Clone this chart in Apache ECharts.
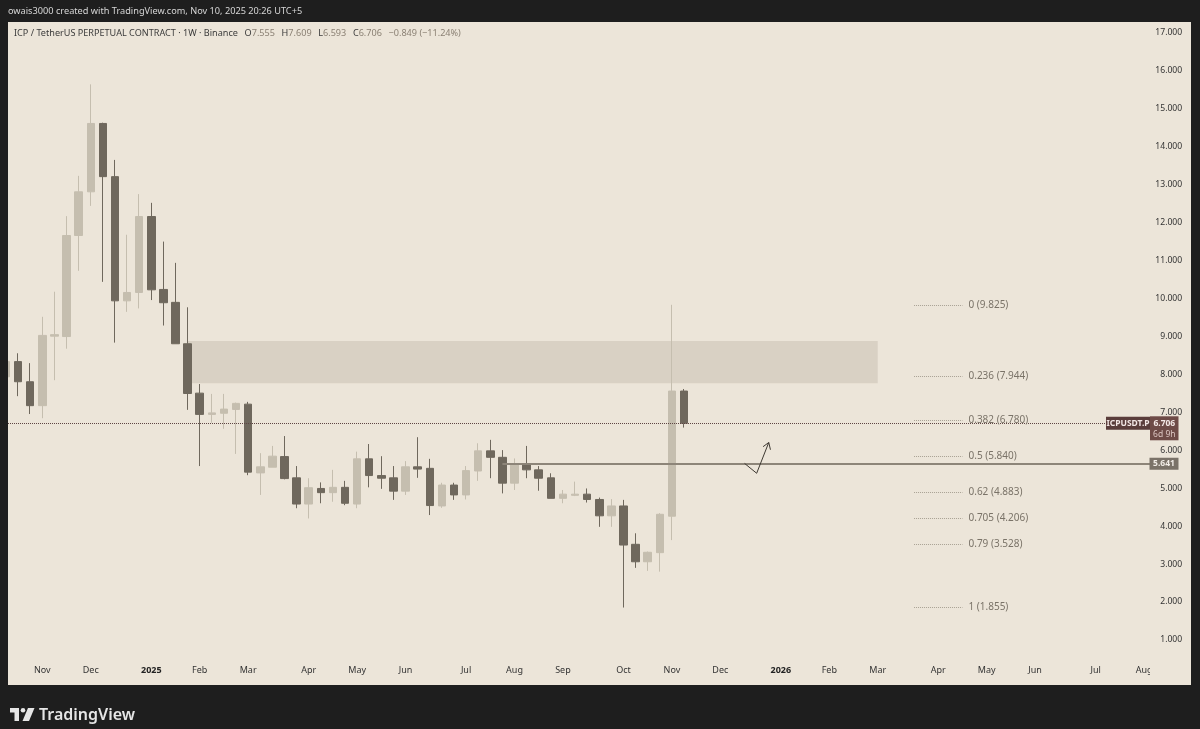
<!DOCTYPE html>
<html>
<head>
<meta charset="utf-8">
<title>ICPUSDT.P 1W</title>
<script src="https://cdn.jsdelivr.net/npm/echarts@6/dist/echarts.min.js"></script>
<style>
  html, body { margin: 0; padding: 0; background: #1e1e1e; }
  #chart { width: 1200px; height: 729px; }
</style>
</head>
<body>
<div id="chart"></div>
<script>
// weekly candles, x = week number counted from the week of 2024-10-14
var opens  = [7.93, 8.33, 7.80, 7.17, 9.00, 8.99, 11.65, 12.80, 14.60, 13.20, 9.93, 10.15, 12.15, 10.23, 9.89, 8.80,
              7.50, 6.94, 6.97, 7.07, 7.21, 5.40, 5.55, 5.83, 5.27, 4.58, 4.99, 4.88, 5.02, 4.58, 5.77, 5.33,
              5.27, 4.92, 5.56, 5.52, 4.53, 5.08, 4.82, 5.45, 5.98, 5.81, 5.13, 5.64, 5.48, 5.27, 4.73, 4.81,
              4.84, 4.70, 4.27, 4.53, 3.52, 3.06, 3.30, 4.26, 7.555]
var closes = [8.33, 7.80, 7.17, 9.02, 9.04, 11.65, 12.80, 14.60, 13.20, 9.93, 10.15, 12.15, 10.22, 9.88, 8.80, 7.49,
              6.94, 6.98, 7.08, 7.23, 5.42, 5.56, 5.84, 5.25, 4.58, 5.01, 4.88, 5.02, 4.60, 5.77, 5.33, 5.26,
              4.92, 5.56, 5.50, 4.54, 5.08, 4.82, 5.46, 5.98, 5.81, 5.13, 5.63, 5.48, 5.26, 4.73, 4.84, 4.84,
              4.70, 4.27, 4.53, 3.50, 3.06, 3.31, 4.31, 7.555, 6.706]
var lows   = [7.80, 7.42, 6.95, 6.84, 7.84, 8.67, 10.72, 12.43, 10.43, 8.83, 9.64, 9.73, 9.95, 9.28, 8.80, 7.06,
              5.58, 6.72, 6.56, 5.90, 5.34, 4.82, 5.55, 5.23, 4.47, 4.20, 4.60, 4.64, 4.55, 4.47, 5.02, 4.98,
              4.69, 4.82, 5.27, 4.29, 4.48, 4.69, 4.70, 5.19, 5.26, 4.86, 4.95, 5.26, 4.93, 4.73, 4.60, 4.79,
              4.62, 3.98, 3.98, 1.855, 2.90, 2.82, 2.80, 3.63, 6.593]
var highs  = [8.45, 8.55, 8.29, 9.51, 10.17, 12.16, 13.22, 15.63, 14.62, 13.64, 11.67, 12.74, 12.51, 11.49, 10.93, 9.76,
              7.74, 7.48, 7.48, 7.25, 7.27, 5.92, 6.11, 6.37, 5.58, 5.26, 5.15, 5.48, 5.19, 5.96, 6.16, 5.84,
              5.58, 5.71, 6.34, 5.77, 5.14, 5.14, 5.58, 6.18, 6.27, 6.00, 5.78, 6.11, 5.58, 5.39, 4.95, 5.17,
              4.99, 4.75, 4.71, 4.69, 3.81, 3.33, 4.34, 9.825, 7.609]

// time scale labels (week number of the first bar of each month)
var monthWeeks  = [3, 7, 12, 16, 20, 25, 29, 33, 38, 42, 46, 51, 55, 59, 64, 68, 72, 77, 81, 85, 90, 94]
var monthLabels = ['Nov', 'Dec', '2025', 'Feb', 'Mar', 'Apr', 'May', 'Jun', 'Jul', 'Aug', 'Sep',
                   'Oct', 'Nov', 'Dec', '2026', 'Feb', 'Mar', 'Apr', 'May', 'Jun', 'Jul', 'Aug']

// fib retracement drawn from the Oct low to the Nov high
var fibRatios = ['0', '0.236', '0.382', '0.5', '0.62', '0.705', '0.79', '1']
var fibPrices = [9.825, 7.944, 6.780, 5.840, 4.883, 4.206, 3.528, 1.855]
var fibWeeks = [75, 79]

// supply zone box
var zoneWeeks = [15, 72]
var zonePrices = [8.87, 7.76]

// horizontal level and last price
var levelWeek = 41
var levelPrice = 5.641
var lastPrice = 6.706

// hand drawn arrow (week, price)
var arrowWeeks = [61.0, 62.0, 63.0]
var arrowPrices = [5.65, 5.39, 6.20]
var arrowHeadWeeks = [62.53, 63.14]
var arrowHeadPrices = [6.09, 6.01]

var FONT = 'Noto Sans'
var BG = '#ece5d9'
var FRAME = '#1e1e1e'
var UP = '#c5beaf'
var DOWN = '#6f685d'

var chart = echarts.init(document.getElementById('chart'))

var candles = opens.map(function (o, i) {
  return [i, o, closes[i], lows[i], highs[i]]
})

var labelAt = {}
monthWeeks.forEach(function (w, k) { labelAt[w] = monthLabels[k] })

var fibLines = fibPrices.map(function (p, k) {
  return [
    {
      coord: [fibWeeks[0], p],
      lineStyle: { color: '#a9a194', type: 'dotted', width: 1 },
      label: {
        show: true, position: 'end', distance: 6,
        formatter: fibRatios[k] + ' (' + p.toFixed(3) + ')',
        color: '#7a7368', fontSize: 10, fontFamily: FONT
      }
    },
    { coord: [fibWeeks[1], p] }
  ]
})

var arrowStyle = { color: '#3f3a33', width: 1, type: 'solid' }
var arrowLines = [
  [{ coord: [arrowWeeks[0], arrowPrices[0]], lineStyle: arrowStyle }, { coord: [arrowWeeks[1], arrowPrices[1]] }],
  [{ coord: [arrowWeeks[1], arrowPrices[1]], lineStyle: arrowStyle }, { coord: [arrowWeeks[2], arrowPrices[2]] }],
  [{ coord: [arrowHeadWeeks[0], arrowHeadPrices[0]], lineStyle: arrowStyle }, { coord: [arrowWeeks[2], arrowPrices[2]] }],
  [{ coord: [arrowHeadWeeks[1], arrowHeadPrices[1]], lineStyle: arrowStyle }, { coord: [arrowWeeks[2], arrowPrices[2]] }]
]

chart.setOption({
  backgroundColor: FRAME,
  animation: false,
  grid: { left: 6, right: 43.8, top: 32.3, bottom: 51 },
  xAxis: {
    type: 'value', min: 0, max: 95, interval: 1,
    axisLine: { show: false }, axisTick: { show: false }, splitLine: { show: false },
    axisLabel: {
      margin: -12,
      color: '#333',
      fontSize: 9,
      fontFamily: FONT,
      formatter: function (v) {
        var t = labelAt[v]
        if (!t) return ''
        return /^20/.test(t) ? '{y|' + t + '}' : t
      },
      rich: { y: { fontWeight: 'bold', fontSize: 9, fontFamily: FONT, color: '#222' } }
    }
  },
  yAxis: {
    type: 'value', position: 'right', min: 0, max: 17, interval: 1, z: 10,
    axisLine: { show: false }, axisTick: { show: false }, splitLine: { show: false },
    axisLabel: {
      align: 'right', margin: 26, color: '#333', fontSize: 8.6, fontFamily: FONT,
      formatter: function (v) { return v === 0 ? '' : v.toFixed(3) }
    }
  },
  series: [{
    type: 'candlestick',
    data: candles,
    barWidth: 8,
    itemStyle: { color: UP, color0: DOWN, borderColor: UP, borderColor0: DOWN, borderWidth: 1 },
    markArea: {
      silent: true,
      itemStyle: { color: '#d9d1c4' },
      data: [[{ coord: [zoneWeeks[0], zonePrices[0]] }, { coord: [zoneWeeks[1], zonePrices[1]] }]]
    },
    markLine: {
      silent: true,
      symbol: ['none', 'none'],
      label: { show: false },
      emphasis: { disabled: true },
      data: [
        { yAxis: lastPrice, lineStyle: { color: '#5e4543', type: 'dotted', width: 1 } },
        [{ coord: [levelWeek, levelPrice], lineStyle: { color: '#8d8579', type: 'solid', width: 2 } }, { coord: [95, levelPrice] }]
      ].concat(fibLines, arrowLines)
    }
  }]
})

// frame, captions and price tags; tag heights come from the price scale
var yLast = chart.convertToPixel({ yAxisIndex: 0 }, lastPrice)
var yLevel = chart.convertToPixel({ yAxisIndex: 0 }, levelPrice)

chart.setOption({
  graphic: [
    { type: 'rect', z: -10, shape: { x: 8, y: 22, width: 1183, height: 663 }, style: { fill: BG } },
    // price scale strip hides the time labels that run under it
    { type: 'rect', z: 4, shape: { x: 1150, y: 22, width: 41, height: 663 }, style: { fill: BG } },
    { type: 'rect', z: 100, shape: { x: 0, y: 22, width: 8, height: 663 }, style: { fill: FRAME } },
    {
      type: 'text', z: 100, x: 8, y: 11,
      style: { text: 'owais3000 created with TradingView.com, Nov 10, 2025 20:26 UTC+5', fill: '#d6d6d6',
               font: '9.2px "' + FONT + '"', verticalAlign: 'middle' }
    },
    {
      type: 'text', z: 100, x: 14, y: 33,
      style: {
        text: '{t|ICP / TetherUS PERPETUAL CONTRACT · 1W · Binance}  {t|O}{v|7.555}  {t|H}{v|7.609}  {t|L}{v|6.593}  {t|C}{v|6.706}  {v|−0.849 (−11.24%)}',
        verticalAlign: 'middle',
        rich: {
          t: { fill: '#3b3b3b', fontSize: 9.1, fontFamily: FONT },
          v: { fill: '#8b8174', fontSize: 9.1, fontFamily: FONT }
        }
      }
    },
    // TradingView mark
    { type: 'rect', z: 100, shape: { x: 10, y: 708, width: 9, height: 4.5 }, style: { fill: '#e6e6e6' } },
    { type: 'rect', z: 100, shape: { x: 14.5, y: 708, width: 4.5, height: 13 }, style: { fill: '#e6e6e6' } },
    { type: 'circle', z: 100, shape: { cx: 23, cy: 710.3, r: 2.3 }, style: { fill: '#e6e6e6' } },
    { type: 'polygon', z: 100, shape: { points: [[28, 708], [34.5, 708], [29, 721], [22.5, 721]] }, style: { fill: '#e6e6e6' } },
    {
      type: 'text', z: 100, x: 39, y: 715,
      style: { text: 'TradingView', fill: '#e6e6e6', font: '600 16px "' + FONT + '"', verticalAlign: 'middle' }
    },
    // last price tags
    { type: 'rect', z: 20, shape: { x: 1106, y: yLast - 6.5, width: 44, height: 13 }, style: { fill: '#5a3d3b' } },
    {
      type: 'text', z: 21, x: 1128, y: yLast,
      style: { text: 'ICPUSDT.P', fill: '#f2e6e4', font: 'bold 8.5px "' + FONT + '"', align: 'center', verticalAlign: 'middle' }
    },
    { type: 'rect', z: 20, shape: { x: 1150, y: yLast - 7, width: 28.5, height: 24 }, style: { fill: '#6e4b47' } },
    {
      type: 'text', z: 21, x: 1164.3, y: yLast,
      style: { text: '6.706', fill: '#f4e8e6', font: 'bold 8.5px "' + FONT + '"', align: 'center', verticalAlign: 'middle' }
    },
    {
      type: 'text', z: 21, x: 1164.3, y: yLast + 11,
      style: { text: '6d 9h', fill: '#dcc6c2', font: '8.5px "' + FONT + '"', align: 'center', verticalAlign: 'middle' }
    },
    { type: 'rect', z: 20, shape: { x: 1149.5, y: yLevel - 6, width: 29, height: 12 }, style: { fill: '#7a7268' } },
    {
      type: 'text', z: 21, x: 1164, y: yLevel,
      style: { text: levelPrice.toFixed(3), fill: '#f1ece6', font: 'bold 8.5px "' + FONT + '"', align: 'center', verticalAlign: 'middle' }
    }
  ]
})
</script>
</body>
</html>
